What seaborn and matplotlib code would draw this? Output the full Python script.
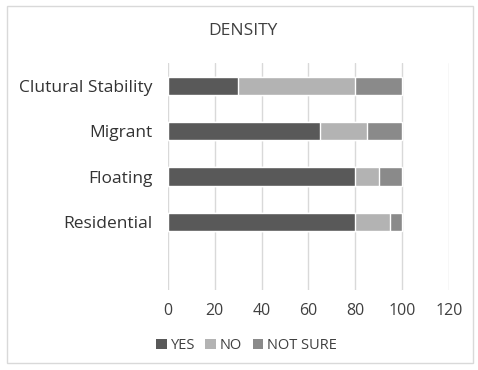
import matplotlib
matplotlib.use("Agg")
import matplotlib.pyplot as plt
from matplotlib.patches import Rectangle, Patch
import seaborn as sns
import pandas as pd
import numpy as np

categories = ["Clutural Stability", "Migrant", "Floating", "Residential"]
yes_vals = [30, 65, 80, 80]
no_vals = [50, 20, 10, 15]
not_sure_vals = [20, 15, 10, 5]
series_names = ["YES", "NO", "NOT SURE"]
series_colors = ["#595959", "#b3b3b3", "#8a8a8a"]
x_ticks = [0, 20, 40, 60, 80, 100, 120]

sns.set_theme(style="white")
plt.rcParams["font.family"] = ["Open Sans", "DejaVu Sans"]

df = pd.DataFrame({
    "category": categories,
    "yes": yes_vals,
    "yes_no": np.array(yes_vals) + np.array(no_vals),
    "total": np.array(yes_vals) + np.array(no_vals) + np.array(not_sure_vals),
})

fig = plt.figure(figsize=(4.78, 3.70), dpi=100)
ax = fig.add_axes([0.3515, 0.2162, 0.5875, 0.6135])

# stacked bars drawn as overlapping cumulative totals
for col, color in zip(["total", "yes_no", "yes"],
                      [series_colors[2], series_colors[1], series_colors[0]]):
    sns.barplot(data=df, x=col, y="category", order=categories, color=color,
                width=0.4, saturation=1, ax=ax, zorder=3)

ax.set_xlim(0, 120)
ax.set_ylim(4.5, -0.5)
ax.set_xticks(x_ticks)
ax.set_xticklabels([str(t) for t in x_ticks], fontsize=11.5, color="#404040")
ax.tick_params(axis="x", length=0, pad=9)
ax.tick_params(axis="y", length=0, pad=11, labelsize=12.5, labelcolor="#333333")
ax.set_xlabel("")
ax.set_ylabel("")
ax.grid(axis="x", color="#d9d9d9", linewidth=1, zorder=0)
ax.grid(axis="y", visible=False)
for s in ax.spines.values():
    s.set_visible(False)

fig.text(0.508, 0.915, "DENSITY", ha="center", va="center", fontsize=12.5, color="#404040")

handles = [Patch(facecolor=c, edgecolor="none") for c in series_colors]
fig.legend(handles, series_names, loc="center", bbox_to_anchor=(0.516, 0.067), ncol=3,
           frameon=False, fontsize=10.5, handlelength=0.7, handleheight=0.7,
           handletextpad=0.3, columnspacing=0.7, labelcolor="#404040")

fig.patches.append(Rectangle((0.015, 0.02), 0.975, 0.965, transform=fig.transFigure,
                             fill=False, edgecolor="#d9d9d9", linewidth=1))

fig.savefig("out.png", dpi=100, facecolor="white")
